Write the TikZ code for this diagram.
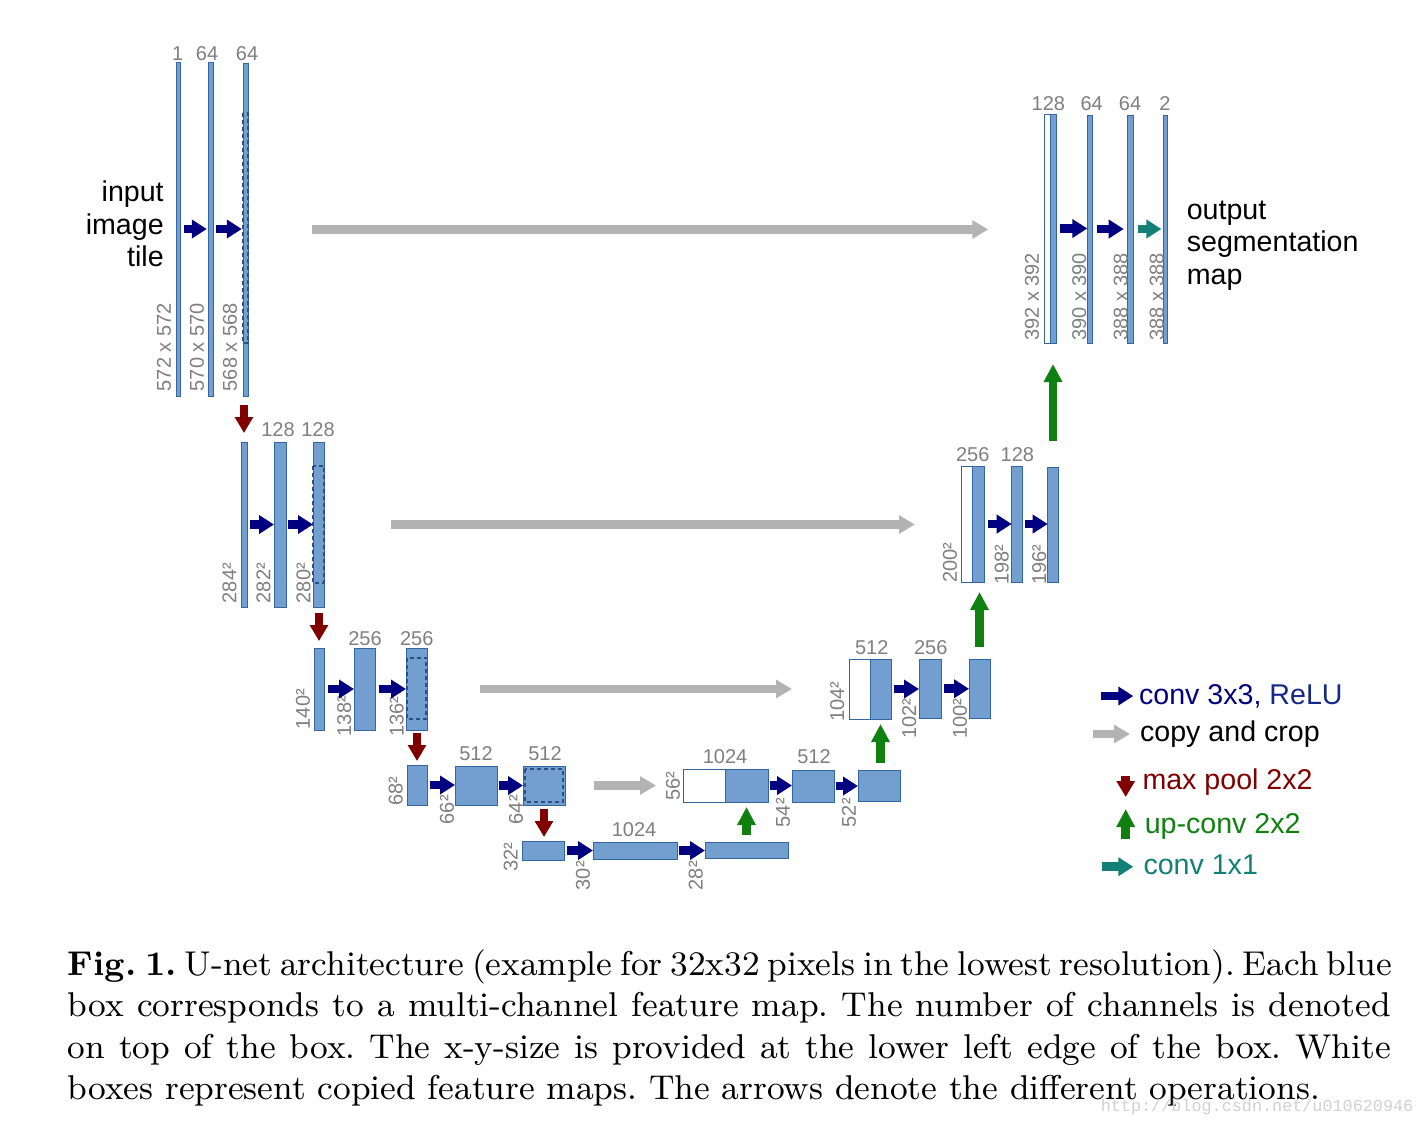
\documentclass[tikz,border=0pt]{standalone}
\usepackage{fontspec}
\newfontfamily\arialf{Liberation Sans}
\newfontfamily\wmfont{Liberation Mono}
\usetikzlibrary{arrows.meta,fit}
\definecolor{boxfill}{HTML}{729FCF}
\definecolor{boxline}{HTML}{3465A4}
\definecolor{convc}{HTML}{000080}
\definecolor{reluc}{HTML}{14288C}
\definecolor{copyc}{HTML}{B3B3B3}
\definecolor{poolc}{HTML}{800000}
\definecolor{upc}{HTML}{108010}
\definecolor{onec}{HTML}{138078}
\definecolor{numc}{HTML}{7F7F7F}
\tikzset{
  fmap/.style={draw=boxline, fill=boxfill, line width=0.25pt, inner sep=0pt, outer sep=0pt},
  cmap/.style={draw=boxline, fill=white, line width=0.25pt, inner sep=0pt, outer sep=0pt},
  cropbox/.style={draw=boxline!80!black, line width=0.45pt, dash pattern=on 1pt off 0.75pt},
  num/.style={font=\arialf\fontsize{5pt}{6pt}\selectfont, text=numc, inner sep=0pt, anchor=base},
  sz/.style={font=\arialf\fontsize{5pt}{6pt}\selectfont, text=numc, inner sep=0pt, rotate=90, anchor=west},
  big/.style={font=\arialf\fontsize{7.15pt}{8pt}\selectfont, inner sep=0pt},
  captionline/.style={font=\fontsize{8.6pt}{10.5pt}\selectfont\frenchspacing, inner sep=0pt, anchor=base west},
  convarrow/.style={draw=convc, line width=2.2pt, -{Triangle[length=3.75pt,width=4.5pt]}},
  copyarrow/.style={draw=copyc, line width=2.1pt, -{Triangle[length=4pt,width=4.4pt]}},
  poolarrow/.style={draw=poolc, line width=2.2pt, -{Triangle[length=4pt,width=4.4pt]}},
  uparrow/.style={draw=upc, line width=2.2pt, -{Triangle[length=4.5pt,width=4.4pt]}},
  onearrow/.style={draw=onec, line width=2.2pt, -{Triangle[length=3.75pt,width=4.5pt]}},
}
\begin{document}
\begin{tikzpicture}[x=0.25pt,y=-0.25pt]
\useasboundingbox (0,0) rectangle (1422,1126);
\fill[white] (0,0) rectangle (1422,1126);

% ---------------- level 1 (contracting)
\node[fmap, fit={(177.4,62)(178.6,396)}] (b11) {};
\node[fmap, fit={(208,62)(213,396)}] (b12) {};
\node[fmap, fit={(243,63)(248,396)}] (b13) {};
\draw[cropbox] (243,113) rectangle (248,343);
\node[num] (t11) at (177.7,60) {1};
\node[num] (t12) at (207,60) {64};
\node[num] (t13) at (247,60) {64};
\node[sz] (s11) at (164,392) {572 x 572};
\node[sz] (s12) at (197,392) {570 x 570};
\node[sz] (s13) at (230,392) {568 x 568};
\node[big, anchor=base east] (in1) at (164.5,201.7) {input};
\node[big, anchor=base east] (in2) at (164.5,234) {image};
\node[big, anchor=base east] (in3) at (164.5,266) {tile};
\draw[convarrow, shorten <=0.9pt, shorten >=0.3pt] (b11.east) -- (b11.east -| b12.west);
\draw[convarrow, shorten <=0.75pt, shorten >=0.3pt] (b12.east) -- (b12.east -| b13.west);

% ---------------- level 2
\node[fmap, fit={(241,442)(247,607)}] (b21) {};
\node[fmap, fit={(274,442)(286,607)}] (b22) {};
\node[fmap, fit={(313,442)(324,607)}] (b23) {};
\draw[cropbox] (313.3,466) rectangle (323.7,583);
\node[num] (t22) at (278,436.5) {128};
\node[num] (t23) at (318,436.5) {128};
\node[sz] (s21) at (229.5,604) {284²};
\node[sz] (s22) at (263.5,604) {282²};
\node[sz] (s23) at (303.5,604) {280²};
\draw[convarrow, shorten <=0.75pt] (b21.east) -- (b21.east -| b22.west);
\draw[convarrow, shorten <=0.5pt] (b22.east) -- (b22.east -| b23.west);
\draw[poolarrow, shorten <=2.25pt, shorten >=2.25pt] (b21.north |- b13.south) -- (b21.north);

% ---------------- level 3
\node[fmap, fit={(314,648)(324,730)}] (b31) {};
\node[fmap, fit={(354,648)(375,730)}] (b32) {};
\node[fmap, fit={(406,648)(427,730)}] (b33) {};
\draw[cropbox] (406.8,658) rectangle (426.2,719);
\node[num] (t32) at (365,645) {256};
\node[num] (t33) at (416.7,645) {256};
\node[sz] (s31) at (303,730) {140²};
\node[sz] (s32) at (344.2,737) {138²};
\node[sz] (s33) at (396.7,737.5) {136²};
\draw[convarrow, shorten <=1pt] (b31.east) -- (b31.east -| b32.west);
\draw[convarrow, shorten <=1pt] (b32.east) -- (b32.east -| b33.west);
\draw[poolarrow, shorten <=1.5pt, shorten >=1.75pt] (b31.north |- b23.south) -- (b31.north);

% ---------------- level 4
\node[fmap, fit={(407,765)(427,805)}] (b41) {};
\node[fmap, fit={(455,766)(497,805)}] (b42) {};
\node[fmap, fit={(523,766)(565,805)}] (b43) {};
\draw[cropbox] (525,769) rectangle (563,802);
\node[num] (t42) at (476,760) {512};
\node[num] (t43) at (545,760) {512};
\node[sz] (s41) at (395.7,806.5) {68²};
\node[sz] (s42) at (447,825) {66²};
\node[sz] (s43) at (516,825) {64²};
\draw[convarrow, shorten <=0.75pt] (b41.east) -- (b41.east -| b42.west);
\draw[convarrow, shorten <=0.5pt] (b42.east) -- (b42.east -| b43.west);
\draw[poolarrow, shorten <=0.75pt, shorten >=1pt] (b41.north |- b33.south) -- (b41.north);

% ---------------- level 5 (bottom)
\node[fmap, fit={(522,841)(564,860)}] (b51) {};
\node[fmap, fit={(593,842)(677,859)}] (b52) {};
\node[fmap, fit={(705,842)(788,858)}] (b53) {};
\node[num] (t52) at (634,836.7) {1024};
\node[sz] (s51) at (510.7,872.5) {32²};
\node[sz] (s52) at (583,891) {30²};
\node[sz] (s53) at (695.7,891) {28²};
\draw[convarrow, shorten <=0.75pt] (b51.east) -- (b51.east -| b52.west);
\draw[convarrow, shorten <=0.5pt] (b52.east) -- (b52.east -| b53.west);
\draw[poolarrow, shorten <=1pt, shorten >=1pt] (b43.south) -- (b43.south |- b51.north);

% ---------------- level 4 (expanding)
\node[cmap, fit={(683,769)(725,802)}] (w4) {};
\node[fmap, fit={(725,769)(768,802)}] (c4) {};
\node[fmap, fit={(792,770)(834,802)}] (b44) {};
\node[fmap, fit={(858,770.5)(900,801)}] (b45) {};
\node[num] (t4c) at (725,763) {1024};
\node[num] (t44) at (814,763) {512};
\node[sz] (s4c) at (673,801.5) {56²};
\node[sz] (s44) at (783,828) {54²};
\node[sz] (s45) at (849,828) {52²};
\draw[convarrow, shorten <=0.4pt] (c4.east) -- (c4.east -| b44.west);
\draw[convarrow, shorten <=0.5pt] (b44.east) -- (b44.east -| b45.west);
\draw[uparrow, shorten <=1.75pt, shorten >=1.25pt] (c4.south |- b53.north) -- (c4.south);
\draw[copyarrow, shorten <=7.25pt, shorten >=6.75pt] (b43.east) -- (b43.east -| w4.west);

% ---------------- level 3 (expanding)
\node[cmap, fit={(849,659)(870,719)}] (w3) {};
\node[fmap, fit={(870,659)(891,719)}] (c3) {};
\node[fmap, fit={(919,659)(941,718.5)}] (b34) {};
\node[fmap, fit={(969,659)(990,718.5)}] (b35) {};
\node[num] (t3c) at (871.7,654) {512};
\node[num] (t34) at (930.7,654) {256};
\node[sz] (s3c) at (837.3,722.7) {104²};
\node[sz] (s34) at (909.2,739.3) {102²};
\node[sz] (s35) at (960,739.3) {100²};
\draw[convarrow, shorten <=0.75pt] (c3.east) -- (c3.east -| b34.west);
\draw[convarrow, shorten <=0.75pt] (b34.east) -- (b34.east -| b35.west);
\draw[uparrow, shorten <=1.9pt, shorten >=1.25pt] (c3.south |- b45.north) -- (c3.south);
\draw[copyarrow, shorten <=13.25pt, shorten >=14.25pt] (b33.east) -- (b33.east -| w3.west);

% ---------------- level 2 (expanding)
\node[cmap, fit={(961,466)(972.3,582)}] (w2) {};
\node[fmap, fit={(972.3,466)(984,582)}] (c2) {};
\node[fmap, fit={(1011.7,466)(1022.7,582)}] (b24) {};
\node[fmap, fit={(1047.7,467)(1058.3,582)}] (b25) {};
\node[num] (t2c) at (972.7,461.7) {256};
\node[num] (t24) at (1017.3,461.7) {128};
\node[sz] (s2c) at (950,583.3) {200²};
\node[sz] (s24) at (1001.7,585.5) {198²};
\node[sz] (s25) at (1039.2,585.5) {196²};
\draw[convarrow, shorten <=1pt] (c2.east) -- (c2.east -| b24.west);
\draw[convarrow, shorten <=0.6pt] (b24.east) -- (b24.east -| b25.west);
\draw[uparrow, shorten <=3pt, shorten >=2.5pt] (b35.north) -- (b35.north |- c2.south);
\draw[copyarrow, shorten <=16.75pt, shorten >=11.5pt] (b23.east) -- (b23.east -| w2.west);

% ---------------- level 1 (expanding)
\node[cmap, fit={(1044.3,114)(1050,343)}] (w1) {};
\node[fmap, fit={(1050,114)(1056,343)}] (c1) {};
\node[fmap, fit={(1087.3,115)(1092.7,343)}] (b14) {};
\node[fmap, fit={(1127.7,115)(1133.3,343)}] (b15) {};
\node[fmap, fit={(1164.4,115)(1165.6,343)}] (b16) {};
\node[num] (t1c) at (1048.3,110.7) {128};
\node[num] (t14) at (1091.7,110.7) {64};
\node[num] (t15) at (1130,110.7) {64};
\node[num] (t16) at (1165,110.7) {2};
\node[sz] (s1c) at (1032,341.5) {392 x 392};
\node[sz] (s14) at (1079.2,341.5) {390 x 390};
\node[sz] (s15) at (1120.8,341.5) {388 x 388};
\node[sz] (s16) at (1156.7,341.5) {388 x 388};
\node[big, anchor=base west] (out1) at (1186,219.3) {output};
\node[big, anchor=base west] (out2) at (1186,251.6) {segmentation};
\node[big, anchor=base west] (out3) at (1186,284) {map};
\draw[convarrow, shorten <=1pt] (c1.east) -- (c1.east -| b14.west);
\draw[convarrow, shorten <=1.15pt, shorten >=1pt] (b14.east) -- (b14.east -| b15.west);
\draw[onearrow, shorten <=1.25pt, shorten >=0.4pt] (b15.east) -- (b15.east -| b16.west);
\draw[uparrow, shorten <=6.5pt, shorten >=5.25pt] (c1.south |- b25.north) -- (c1.south);
\draw[copyarrow, shorten <=16pt, shorten >=14pt] (b13.east) -- (b13.east -| w1.west);

% ---------------- legend
\coordinate (lg1a) at (1100.7,696);   \coordinate (lg1b) at (1133.3,696);
\coordinate (lg2a) at (1092.7,734);   \coordinate (lg2b) at (1130,734);
\coordinate (lg3a) at (1125.7,776);   \coordinate (lg3b) at (1125.7,797);
\coordinate (lg4a) at (1125.7,838.5); \coordinate (lg4b) at (1125.7,809);
\coordinate (lg5a) at (1101.7,866.7); \coordinate (lg5b) at (1133.3,866.7);
\draw[convarrow] (lg1a) -- (lg1b);
\draw[copyarrow] (lg2a) -- (lg2b);
\draw[poolarrow] (lg3a) -- (lg3b);
\draw[uparrow] (lg4a) -- (lg4b);
\draw[onearrow] (lg5a) -- (lg5b);
\node[big, anchor=base west, text=convc] (lt1) at (1138.3,704.3) {conv 3x3, \textcolor{reluc}{ReLU}};
\node[big, anchor=base west] (lt2) at (1139.3,741.7) {copy and crop};
\node[big, anchor=base west, text=poolc] (lt3) at (1141.7,789) {max pool 2x2};
\node[big, anchor=base west, text=upc] (lt4) at (1144,833.3) {up-conv 2x2};
\node[big, anchor=base west, text=onec] (lt5) at (1142.7,874.3) {conv 1x1};

% ---------------- caption
\node[captionline] (cap1) at (67,975) {\makebox[330.75pt][s]{\textbf{Fig.~1.} U-net architecture (example for 32x32 pixels in the lowest resolution). Each blue}};
\node[captionline] (cap2) at (67,1016.7) {\makebox[330.75pt][s]{box corresponds to a multi-channel feature map. The number of channels is denoted}};
\node[captionline] (cap3) at (67,1058) {\makebox[330.75pt][s]{on top of the box. The x-y-size is provided at the lower left edge of the box. White}};
\node[captionline] (cap4) at (67,1099.5) {boxes represent copied feature maps. The arrows denote the different operations.};
\node[anchor=base west, inner sep=0pt, text=black!18, font=\wmfont\fontsize{4.2pt}{5pt}\selectfont] (wm) at (1100,1111.5) {http://blog.csdn.net/u010620946};
\end{tikzpicture}
\end{document}
